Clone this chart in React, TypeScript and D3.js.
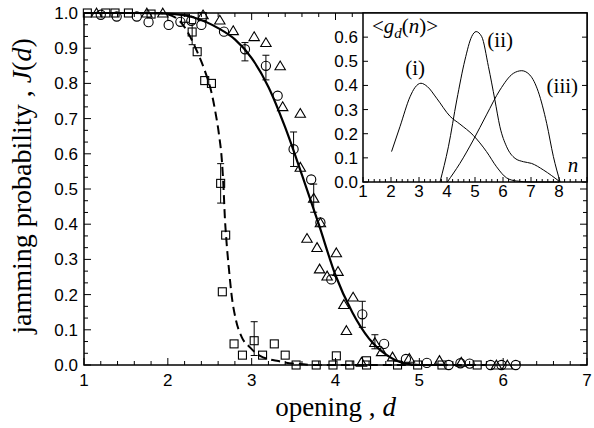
import * as d3 from "d3";

const W = 594;
const H = 428;

// main panel: jamming probability J(d) vs opening d  -> [d, J]
const squares: [number, number][] = [
  [1.04, 1.0], [1.26, 1.0], [1.37, 1.0], [1.53, 1.0], [1.8, 0.997], [2.21, 0.985],
  [2.41, 0.99], [2.29, 0.946], [2.35, 0.89], [2.44, 0.808], [2.52, 0.8], [2.63, 0.516],
  [2.69, 0.369], [2.65, 0.208], [2.79, 0.06], [2.89, 0.028], [3.03, 0.069], [3.13, 0.028],
  [3.27, 0.06], [3.4, 0.028], [3.53, 0.0], [3.77, 0.0], [3.97, 0.0], [4.01, 0.026],
  [4.17, 0.0], [4.37, 0.0], [4.37, 0.012], [4.74, 0.0], [4.98, 0.0], [5.27, 0.0], [5.69, 0.0],
];
const circles: [number, number][] = [
  [1.2, 0.995], [1.39, 0.99], [1.63, 0.99], [1.77, 0.974], [2.01, 0.966], [2.15, 0.975],
  [2.28, 0.978], [2.4, 0.966], [2.67, 0.947], [2.92, 0.897], [3.17, 0.85], [3.31, 0.765],
  [3.5, 0.613], [3.71, 0.527], [3.82, 0.405], [3.95, 0.243], [4.32, 0.144], [4.58, 0.06],
  [4.84, 0.017], [5.09, 0.006], [5.35, 0.0], [5.49, 0.005], [5.6, 0.004], [5.85, 0.0],
  [5.98, 0.0], [6.15, 0.0],
];
const triangles: [number, number][] = [
  [1.15, 1.0], [1.75, 1.0], [1.94, 1.0], [2.42, 0.995], [2.62, 0.98], [2.78, 0.95],
  [3.03, 0.933], [3.17, 0.916], [3.34, 0.85], [3.37, 0.734], [3.58, 0.715], [3.58, 0.562],
  [3.74, 0.474], [3.82, 0.404], [3.66, 0.36], [3.78, 0.334], [4.01, 0.319], [3.81, 0.273],
  [3.9, 0.253], [4.03, 0.266], [4.1, 0.172], [4.21, 0.193], [4.13, 0.098], [4.47, 0.064],
  [4.55, 0.038], [4.68, 0.023], [4.88, 0.019], [4.31, 0.008], [5.24, 0.013], [5.5, 0.008],
  [5.92, 0.0], [6.05, 0.0],
];
// error bars [d, J, half-width]
const errorBars: [number, number, number][] = [
  [2.29, 0.94, 0.03], [2.63, 0.516, 0.056], [3.03, 0.075, 0.048],
  [2.92, 0.89, 0.026], [3.17, 0.845, 0.035], [3.5, 0.613, 0.049], [4.32, 0.144, 0.037],
  [3.74, 0.474, 0.04], [4.47, 0.066, 0.02],
];
// fitted curves
const fitSolid: [number, number][] = [
  [1.0, 1.0], [1.6, 1.0], [2.0, 0.998], [2.3, 0.988], [2.6, 0.957], [2.8, 0.925],
  [3.0, 0.872], [3.2, 0.79], [3.4, 0.675], [3.6, 0.54], [3.8, 0.4], [4.0, 0.255],
  [4.2, 0.15], [4.4, 0.075], [4.6, 0.03], [4.8, 0.006], [5.0, 0.0], [5.3, 0.0],
];
const fitDashed: [number, number][] = [
  [1.0, 1.0], [1.9, 1.0], [2.05, 0.992], [2.15, 0.975], [2.25, 0.94], [2.35, 0.89],
  [2.45, 0.83], [2.52, 0.775], [2.57, 0.715], [2.61, 0.655], [2.645, 0.58], [2.665, 0.5],
  [2.68, 0.42], [2.7, 0.35], [2.73, 0.27], [2.76, 0.2], [2.81, 0.13], [2.88, 0.08],
  [2.98, 0.05], [3.1, 0.026], [3.3, 0.012], [3.5, 0.004], [3.8, 0.0], [5.8, 0.0],
];
const xTicks = [1, 2, 3, 4, 5, 6, 7];
const yTicks = [0, 0.1, 0.2, 0.3, 0.4, 0.5, 0.6, 0.7, 0.8, 0.9, 1.0];

// inset: <g_d(n)> vs n -> [n, g]
const curveI: [number, number][] = [
  [2.02, 0.126], [2.32, 0.229], [2.68, 0.353], [2.86, 0.392], [3.07, 0.409], [3.3, 0.395],
  [3.63, 0.347], [4.11, 0.272], [4.46, 0.24], [4.94, 0.193], [5.41, 0.126], [5.77, 0.063],
  [6.13, 0.017], [6.49, 0.004], [7.0, 0.0], [8.0, 0.0],
];
const curveII: [number, number][] = [
  [3.75, 0.0], [4.05, 0.146], [4.35, 0.34], [4.64, 0.505], [4.88, 0.602], [5.04, 0.623],
  [5.24, 0.602], [5.48, 0.478], [5.71, 0.34], [5.89, 0.229], [6.13, 0.146], [6.43, 0.098],
  [6.73, 0.084], [7.02, 0.077], [7.44, 0.05], [8.04, 0.0],
];
const curveIII: [number, number][] = [
  [4.01, 0.0], [4.46, 0.077], [4.94, 0.174], [5.41, 0.278], [5.89, 0.381], [6.37, 0.45],
  [6.67, 0.461], [6.96, 0.443], [7.26, 0.374], [7.56, 0.243], [7.8, 0.105], [8.04, 0.0],
];
const insetXTicks = [1, 2, 3, 4, 5, 6, 7, 8];
const insetYTicks = [0, 0.1, 0.2, 0.3, 0.4, 0.5, 0.6];

const sans = "'Liberation Sans', Arial, sans-serif";
const serif = "'Liberation Serif', 'Times New Roman', serif";

export default function App() {
  const x = d3.scaleLinear().domain([1, 7]).range([84, 587]);
  const y = d3.scaleLinear().domain([0, 1]).range([365, 13]);

  const ix = d3.scaleLinear().domain([1, 9]).range([363, 587]);
  const iy = d3.scaleLinear().domain([0, 0.7]).range([182, 13]);

  const line = d3
    .line<[number, number]>()
    .x((d) => x(d[0]))
    .y((d) => y(d[1]))
    .curve(d3.curveMonotoneX);
  const iline = d3
    .line<[number, number]>()
    .x((d) => ix(d[0]))
    .y((d) => iy(d[1]))
    .curve(d3.curveMonotoneX);

  const xMinor = d3.range(1, 7.001, 0.2);
  const yMinor = d3.range(0, 1.0001, 1 / 30);
  const ixMinor = d3.range(1, 9.001, 0.2);

  const [x0, x1] = x.range();
  const [y0, y1] = y.range();

  return (
    <svg width={W} height={H} style={{ position: "absolute", left: 0, top: 0, background: "#fff" }}>
      {/* main ticks */}
      <g stroke="#000" strokeWidth={1}>
        {xMinor.map((v, i) => {
          const major = Math.abs(v - Math.round(v)) < 1e-6;
          const len = major ? 7 : 4;
          return (
            <g key={"xt" + i}>
              <line x1={x(v)} x2={x(v)} y1={y0} y2={y0 - len} />
              <line x1={x(v)} x2={x(v)} y1={y1} y2={y1 + len} />
            </g>
          );
        })}
        {yMinor.map((v, i) => {
          const major = i % 3 === 0;
          const len = major ? 7 : 4;
          return (
            <g key={"yt" + i}>
              <line x1={x0} x2={x0 + len} y1={y(v)} y2={y(v)} />
              <line x1={x1} x2={x1 - len} y1={y(v)} y2={y(v)} />
            </g>
          );
        })}
      </g>
      <rect x={x0} y={y1} width={x1 - x0} height={y0 - y1} fill="none" stroke="#000" strokeWidth={1.5} />

      {/* tick labels */}
      <g fontFamily={sans} fontSize={17} fill="#000">
        {xTicks.map((v) => (
          <text key={"xl" + v} x={x(v)} y={386} textAnchor="middle">
            {v}
          </text>
        ))}
        {yTicks.map((v) => (
          <text key={"yl" + v} x={78} y={y(v) + 6} textAnchor="end">
            {v.toFixed(1)}
          </text>
        ))}
      </g>

      {/* axis titles */}
      <text x={(x0 + x1) / 2} y={416} textAnchor="middle" fontFamily={serif} fontSize={27}>
        opening , <tspan fontStyle="italic">d</tspan>
      </text>
      <text
        transform={`translate(31,${(y0 + y1) / 2 - 3}) rotate(-90)`}
        textAnchor="middle"
        fontFamily={serif}
        fontSize={28}
      >
        jamming probability , <tspan fontStyle="italic">J</tspan>(<tspan fontStyle="italic">d</tspan>)
      </text>

      {/* fits */}
      <path d={line(fitSolid) ?? ""} fill="none" stroke="#000" strokeWidth={2.2} />
      <path d={line(fitDashed) ?? ""} fill="none" stroke="#000" strokeWidth={2} strokeDasharray="9,5" />

      {/* error bars */}
      <g stroke="#000" strokeWidth={1}>
        {errorBars.map(([d, j, e], i) => (
          <g key={"eb" + i}>
            <line x1={x(d)} x2={x(d)} y1={y(j - e)} y2={y(j + e)} />
            <line x1={x(d) - 3.5} x2={x(d) + 3.5} y1={y(j - e)} y2={y(j - e)} />
            <line x1={x(d) - 3.5} x2={x(d) + 3.5} y1={y(j + e)} y2={y(j + e)} />
          </g>
        ))}
      </g>

      {/* markers */}
      <g fill="none" stroke="#000" strokeWidth={1.1}>
        {squares.map(([d, j], i) => (
          <rect key={"s" + i} x={x(d) - 4} y={y(j) - 4} width={8} height={8} />
        ))}
        {circles.map(([d, j], i) => (
          <circle key={"c" + i} cx={x(d)} cy={y(j)} r={4.6} />
        ))}
        {triangles.map(([d, j], i) => {
          const cx = x(d);
          const cy = y(j);
          return (
            <path key={"t" + i} d={`M${cx},${cy - 4.8}L${cx + 5.2},${cy + 4}L${cx - 5.2},${cy + 4}Z`} />
          );
        })}
      </g>

      {/* inset */}
      <rect x={ix(1)} y={iy(0.7)} width={ix(9) - ix(1)} height={iy(0) - iy(0.7)} fill="#fff" />
      <g stroke="#000" strokeWidth={1}>
        {ixMinor.map((v, i) => {
          const major = i % 5 === 0;
          return (
            <line key={"ixt" + i} x1={ix(v)} x2={ix(v)} y1={iy(0)} y2={iy(0) - (major ? 5 : 3)} />
          );
        })}
        {insetYTicks.map((v) => (
          <g key={"iyt" + v}>
            <line x1={ix(1)} x2={ix(1) + 5} y1={iy(v)} y2={iy(v)} />
            <line x1={ix(9)} x2={ix(9) - 5} y1={iy(v)} y2={iy(v)} />
          </g>
        ))}
      </g>
      <rect
        x={ix(1)}
        y={iy(0.7)}
        width={ix(9) - ix(1)}
        height={iy(0) - iy(0.7)}
        fill="none"
        stroke="#000"
        strokeWidth={1.5}
      />
      <g fill="none" stroke="#000" strokeWidth={1}>
        <path d={iline(curveI) ?? ""} />
        <path d={iline(curveII) ?? ""} />
        <path d={iline(curveIII) ?? ""} />
      </g>
      <g fontFamily={sans} fontSize={17} fill="#000">
        {insetXTicks.map((v) => (
          <text key={"ixl" + v} x={ix(v)} y={197} textAnchor="middle">
            {v}
          </text>
        ))}
        {insetYTicks.map((v) => (
          <text key={"iyl" + v} x={358} y={iy(v) + 6} textAnchor="end">
            {v.toFixed(1)}
          </text>
        ))}
      </g>
      <g fontFamily={serif} fontSize={21} fill="#000">
        <text x={ix(2.86)} y={75} textAnchor="middle">(i)</text>
        <text x={ix(5.9)} y={47} textAnchor="middle">(ii)</text>
        <text x={ix(8.12)} y={93} textAnchor="middle">(iii)</text>
        <text x={372} y={33}>
          &lt;<tspan fontStyle="italic">g</tspan>
          <tspan fontStyle="italic" fontSize={15} dy={5}>d</tspan>
          <tspan dy={-5}>(</tspan>
          <tspan fontStyle="italic">n</tspan>)&gt;
        </text>
        <text x={573} y={172} fontStyle="italic" textAnchor="middle">n</text>
      </g>
    </svg>
  );
}
